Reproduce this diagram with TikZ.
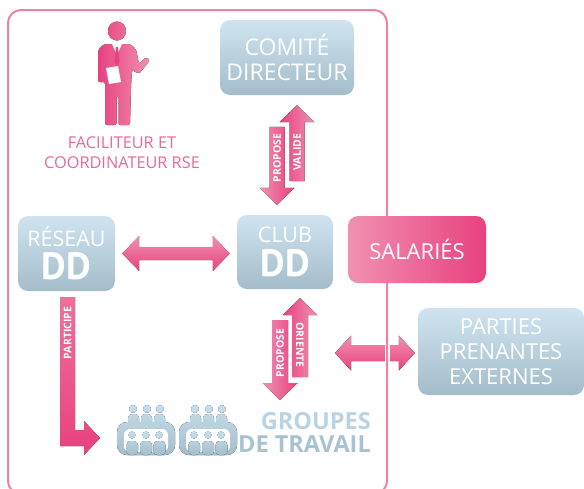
\documentclass[tikz,border=0pt]{standalone}
\usepackage{fontspec}
\setmainfont{Open Sans}
\newfontfamily\ddfamily{PT Sans}
\usepackage{xcolor}
\usepackage{tikz}
\usetikzlibrary{calc}
\definecolor{boxtop}{HTML}{CFE4F0}
\definecolor{boxbot}{HTML}{A4BCC9}
\definecolor{pinkdark}{HTML}{E8417F}
\definecolor{pinklight}{HTML}{F090B1}
\definecolor{framepink}{HTML}{EF7FA7}
\definecolor{labpink}{HTML}{E9679A}
\definecolor{teamtop}{HTML}{C6DEEC}
\definecolor{teambot}{HTML}{A4BDCB}
\definecolor{teamtext}{HTML}{BAD3E2}
\definecolor{teamtextdk}{HTML}{A9C2D0}
\tikzset{
  box/.style={rounded corners=10pt, top color=boxtop, bottom color=boxbot, text=white,
    align=center, inner sep=0pt, font=\fontsize{22}{25}\selectfont},
  pinkbox/.style={rounded corners=10pt, left color=pinklight, right color=pinkdark, text=white,
    inner sep=0pt, font=\fontsize{22}{25}\selectfont},
  frame/.style={draw=framepink, line width=2pt, rounded corners=13pt},
  harrow/.style={top color=pinklight, bottom color=pinkdark},
  uparrow/.style={left color=pinkdark, right color=pinklight},
  downarrow/.style={left color=pinklight, right color=pinkdark},
  elbow/.style={top color=pinklight!60!pinkdark, bottom color=pinkdark},
  arrlab/.style={text=white, inner sep=0pt, font=\bfseries\fontsize{10.5}{10.5}\selectfont},
  person/.style={left color=pinkdark, right color=pinklight, rounded corners=2pt},
  lab/.style={text=labpink, align=center, inner sep=0pt, font=\fontsize{16.3}{20}\selectfont},
  teamlab/.style={text=teamtextdk, align=right, inner sep=0pt, anchor=east,
    font=\bfseries\fontsize{23.5}{23}\selectfont},
  teamfill/.style={top color=teamtop, bottom color=teambot},
  pics/team/.style={code={
    \fill[teamfill] (16,7) circle (4) (30,7) circle (4) (43,7) circle (4)
      [rounded corners=4pt] (11,24) rectangle (22,12) (24,24) rectangle (35,12) (37,24) rectangle (48,12)
      [rounded corners=10pt] (0,53) rectangle (58,20);
    \fill[white, rounded corners=6pt] (7,50) rectangle (51,27);
    \fill[teamfill] (15,33) circle (3.5) (29,33) circle (3.5) (42,33) circle (3.5)
      [rounded corners=4pt] (9.5,53) rectangle (21,39) (23,53) rectangle (35,39) (36.5,53) rectangle (48.5,39);
  }}
}

\begin{document}
\begin{tikzpicture}[x=1pt, y=-1pt]
  \useasboundingbox (0,0) rectangle (584,488);
  \clip (0,0) rectangle (584,488);

  % boxes
  \node[box, minimum width=134pt, minimum height=75pt, font=\fontsize{23}{25}\selectfont]
    (comite) at (287,57.5) {COMITÉ\\DIRECTEUR};
  \node[box, minimum width=97pt, minimum height=75pt, font=\fontsize{21.5}{25}\selectfont] (reseau) at (66.5,253.5)
    {RÉSEAU\\[5pt]{\ddfamily\bfseries\fontsize{38}{38}\selectfont DD}};
  \node[box, minimum width=96pt, minimum height=74pt, font=\fontsize{21.5}{25}\selectfont] (club) at (285,252)
    {CLUB\\[5pt]{\ddfamily\bfseries\fontsize{38}{38}\selectfont DD}};
  \node[box, minimum width=166pt, minimum height=87pt] (parties) at (501,351.5)
    {PARTIES\\PRENANTES\\EXTERNES};

  % comite <-> club
  \coordinate (v1) at ($(comite.south)+(10,10)$);
  \fill[uparrow] (v1) -- ++(17.5,17) -- ++(-10,0) -- ++(0,59) -- ++(-15,0) -- ++(0,-59) -- ++(-10,0) -- cycle;
  \coordinate (p1) at ($(club.north)+(-8,-10)$);
  \fill[downarrow] (p1) -- ++(17.5,-17) -- ++(-10,0) -- ++(0,-61) -- ++(-15,0) -- ++(0,61) -- ++(-10,0) -- cycle;
  \node[arrlab, rotate=90] (valide) at ($(v1)+(0,47)$) {VALIDE};
  \node[arrlab, rotate=90] (propose1) at ($(p1)+(0,-47)$) {PROPOSE};

  % club <-> groupes
  \coordinate (o1) at ($(club.south)+(15,9)$);
  \fill[uparrow] (o1) -- ++(17.5,17) -- ++(-9.5,0) -- ++(0,62) -- ++(-16,0) -- ++(0,-62) -- ++(-9.5,0) -- cycle;
  \coordinate (p2) at (280,400);
  \fill[downarrow] (p2) -- ++(17.5,-17) -- ++(-9.5,0) -- ++(0,-63) -- ++(-16,0) -- ++(0,63) -- ++(-9.5,0) -- cycle;
  \node[arrlab, rotate=-90] (oriente) at ($(o1)+(0,47)$) {ORIENTE};
  \node[arrlab, rotate=90] (propose2) at ($(p2)+(0,-47)$) {PROPOSE};

  % reseau <-> club
  \coordinate (h1) at ($(reseau.east)+(7,0)$);
  \coordinate (h2) at ($(club.west)+(-7,0)$);
  \fill[harrow] (h1) -- ++(17,-17.5) -- ++(0,11) -- ($(h1 -| h2)+(-17,-6.5)$) -- ++(0,-11) -- (h1 -| h2)
    -- ++(-17,17.5) -- ++(0,-11) -- ($(h1)+(17,6.5)$) -- ++(0,11) -- cycle;

  % externes
  \coordinate (ext) at (335,353);
  \coordinate (h4) at ($(parties.west)+(-3,1.5)$);
  \fill[harrow] (ext) -- ++(16,-17.5) -- ++(0,9.5) -- ($(ext -| h4)+(-16,-8)$) -- ++(0,-9.5) -- (ext -| h4)
    -- ++(-16,17.5) -- ++(0,-9.5) -- ($(ext)+(16,8)$) -- ++(0,9.5) -- cycle;
  \draw[white, line width=5pt] (387,334) -- (387,372);

  % reseau -> groupes
  \coordinate (part) at (100,438);
  \fill[elbow] ($(reseau.south)+(-6.5,6)$) -- ++(15,0) -- ($(part)+(-25,-8)$) -- ++(9,0) -- ++(0,-9) -- (part)
    -- ++(-16,17) -- ++(0,-9) -- ++(-24,0) -- cycle;
  \node[arrlab, rotate=90] (participe) at (67.5,333) {PARTICIPE};

  \draw[frame] (8,10) rectangle (387,494);
  \node[pinkbox, minimum width=138pt, minimum height=67pt] (salaries) at (417,249.5) {SALARIÉS};

  % facilitateur
  \fill[person] (117,31) ellipse (9 and 9.5)
    (104,44) -- (130,44) -- (136,49) -- (139,64) -- (146,57) -- (150,60) -- (139,74) -- (132,70)
    -- (131,87) -- (130,125) -- (118.5,125) -- (118.5,96) -- (116.5,96) -- (116.5,125) -- (105,125)
    -- (105,82) -- (98,82) -- (98,50) -- cycle;
  \fill[white] (112,44) -- (122,44) -- (117,55) -- cycle;
  \fill[pinkdark] (116,47) -- (118,47) -- (119.5,62) -- (117,66) -- (114.5,62) -- cycle;
  \fill[white] (106,68) -- (118,66) -- (121,82) -- (109,84) -- cycle;
  \node[lab] (facil) at (122,152.5) {FACILITEUR ET\\COORDINATEUR RSE};

  % groupes de travail
  \pic at (117,402) {team};
  \pic at (179,402) {team};
  \node[teamlab] (groupes) at (371,432) {{\color{teamtext}GROUPES}\\DE TRAVAIL};
\end{tikzpicture}
\end{document}
